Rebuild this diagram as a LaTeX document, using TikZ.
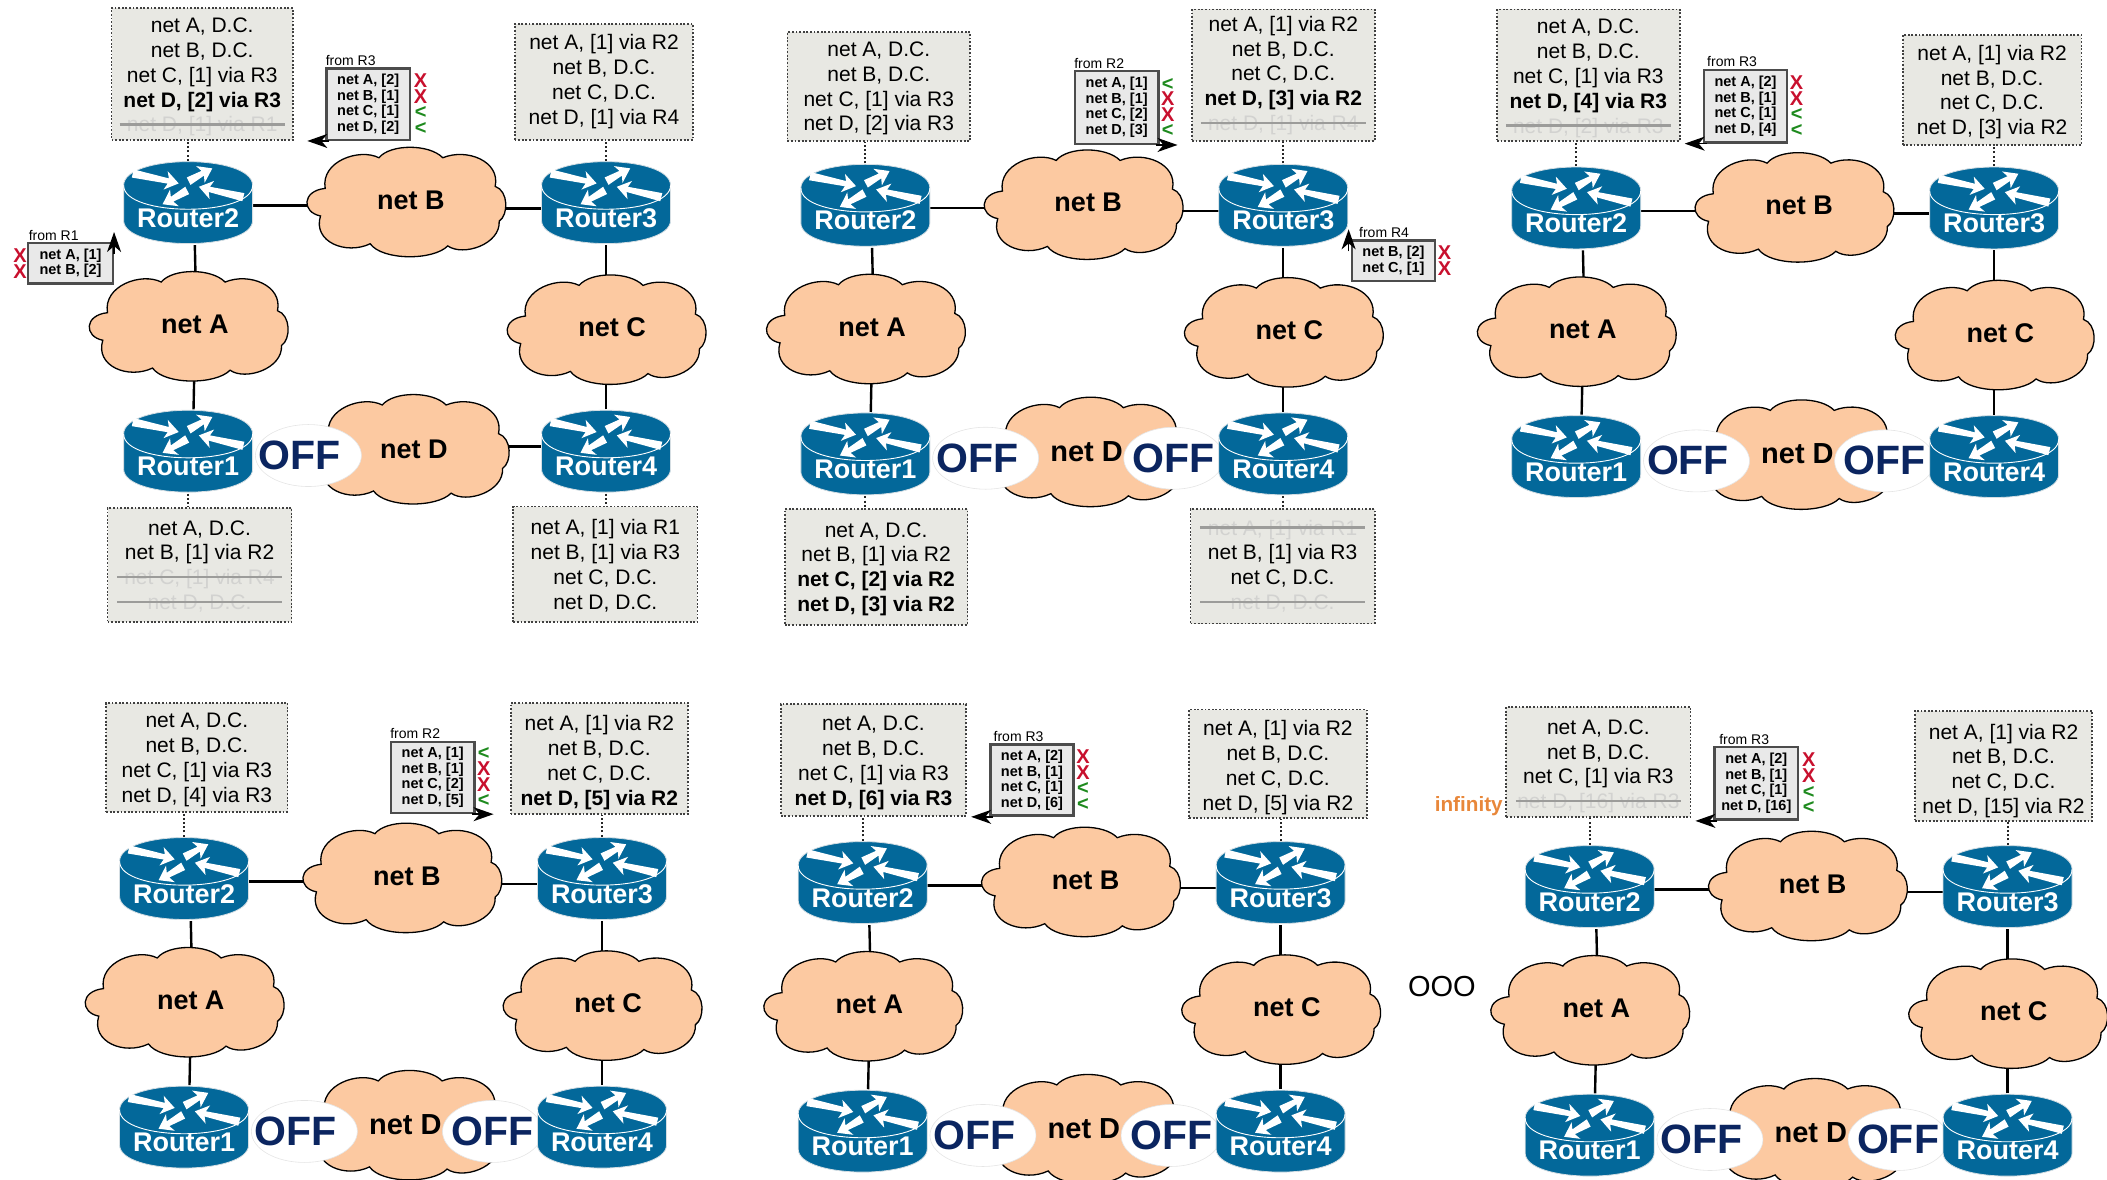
\documentclass[tikz,border=0pt]{standalone}
\usepackage{fontspec}
\setmainfont{Liberation Sans}
\usetikzlibrary{shapes.geometric,arrows.meta,backgrounds}
\definecolor{routerblue}{HTML}{03689A}
\definecolor{routeredge}{HTML}{D5DEE3}
\definecolor{cloudfill}{HTML}{FCC9A1}
\definecolor{tablefill}{HTML}{E8E8E3}
\definecolor{updfill}{HTML}{E9E9E9}
\definecolor{offblue}{HTML}{0B2560}
\definecolor{markred}{HTML}{C8102E}
\definecolor{markgreen}{HTML}{1E8A1E}
\definecolor{faint}{HTML}{D2D2D0}
\definecolor{strikeline}{HTML}{9C9C9A}
\definecolor{orangetxt}{HTML}{E8873A}
\newcommand{\rdx}{\textcolor{markred}{X}}
\newcommand{\grn}{\textcolor{markgreen}{<}}
\newcommand{\strk}[1]{\makebox[165pt][c]{\makebox[0pt]{\textcolor{faint}{#1}}\makebox[0pt]{\textcolor{strikeline}{\rule[0.3em]{165pt}{2.6pt}}}}}
\tikzset{
  x=1.34375pt,y=-1.34375pt,
  cloudshape/.style={fill=cloudfill,draw=black,line width=1.3pt},
  cloudbox/.style={inner sep=0pt,minimum width=200.2pt,minimum height=110pt,font=\fontsize{27}{30}\selectfont\bfseries},
  routerbox/.style={inner sep=0pt,minimum width=129pt,minimum height=84pt,text=white,font=\fontsize{27}{30}\selectfont\bfseries},
  offbox/.style={ellipse,inner sep=0pt,fill=white,draw=black!10,line width=0.6pt,minimum height=62pt,text=offblue,font=\fontsize{41}{44}\selectfont\bfseries},
  link/.style={draw=black,line width=2.4pt},
  dotlink/.style={draw=black!85,line width=2pt,dash pattern=on 2pt off 2.2pt},
  tablebox/.style={inner sep=0pt,fill=tablefill,draw=black!75,line width=1.8pt,dash pattern=on 1.8pt off 1.8pt,align=center,font=\fontsize{21}{24.8}\selectfont},
  updbox/.style={inner sep=0pt,fill=updfill,draw=black!70,line width=2.4pt,align=center,font=\fontsize{14.5}{15.5}\selectfont\bfseries},
  updarrow/.style={draw=black,line width=1.6pt,-{Stealth[length=20pt,width=14pt,inset=6pt]}},
  fromlbl/.style={inner sep=0pt,font=\fontsize{14}{16}\selectfont},
  marklbl/.style={inner sep=0pt,align=center,font=\fontsize{20}{15.6}\selectfont\bfseries}
}
% router: name, x, y, digit
\newcommand{\rtr}[4]{%
  \begin{scope}[shift={(#2,#3)}]
    \fill[routerblue,draw=routeredge,line width=0.8pt] (-48,-13) .. controls (-48,-36.6) and (48,-36.6) .. (48,-13) -- (48,13) .. controls (48,36) and (-48,36) .. (-48,13) -- cycle;
    \draw[white,line width=0.9pt] (-48,-13) .. controls (-48,10.6) and (48,10.6) .. (48,-13);
    \foreach \ax/\ay/\an/\al in {-7/-14.5/-13/35, 18/-25.7/27/20, 8/-12/166/34, -19/1/208/21}{
      \fill[white,shift={(\ax,\ay)},rotate=\an] (0,0) -- (-10,7) -- (-8,2) -- (-\al,3.6) -- (-\al,-2.6) -- (-8,-2) -- (-10,-7) -- cycle;
    }
    \node[routerbox] (#1) at (0,0) {\raisebox{-24.4pt}[0pt][0pt]{\makebox[0pt]{Router#4}}};
  \end{scope}}
% cloud: name, x, y, label, text dx (pt)
\newcommand{\netcloud}[5]{%
  \begin{scope}[shift={(#2,#3)}]
    \path[cloudshape] (-60.5,-9.8) .. controls (-64,-30) and (-35,-40) .. (-20.5,-32.6)
      .. controls (-12,-43) and (17,-43) .. (27,-32.6)
      .. controls (45,-40) and (70,-30) .. (66,-11.3)
      .. controls (76,-8) and (76,10) .. (69,14.6)
      .. controls (70,32) and (42,41) .. (30.7,33)
      .. controls (20,44) and (-18,44) .. (-27,31.4)
      .. controls (-45,40) and (-70,30) .. (-64,10.7)
      .. controls (-78,8) and (-78,-8) .. (-60.5,-9.8) -- cycle;
    \node[cloudbox] (#1) at (0,0) {\raisebox{-7.7pt}[0pt][0pt]{\makebox[0pt]{\hspace*{#5}#4}}};
  \end{scope}}
% panel: id, ox, oy, second OFF (0/1), net D text
\newcommand{\panel}[5]{%
  \begin{scope}[shift={(#2,#3)}]
    \netcloud{#1A}{140.5}{242.5}{net A}{12pt}
    \netcloud{#1B}{302.5}{150}{net B}{9pt}
    \netcloud{#1C}{451.5}{245}{net C}{11pt}
    \netcloud{#1D}{305}{334}{\raisebox{-2pt}{#5}}{\ifnum#4=1 -1pt\else 8pt\fi}
    \node[offbox,minimum width=106pt] (#1offL) at (229.5,339) {\raisebox{-13.8pt}[0pt][0pt]{\makebox[0pt]{\hspace*{-17pt}OFF}}};
    \ifnum#4=1
      \node[offbox,minimum width=100pt] (#1offR) at (369.5,339) {\raisebox{-13.8pt}[0pt][0pt]{\makebox[0pt]{OFF}}};
    \fi
    \rtr{#1R2}{140}{151}{2}
    \rtr{#1R3}{451}{151}{3}
    \rtr{#1R1}{140}{336}{1}
    \rtr{#1R4}{451}{336}{4}
  \end{scope}
  \begin{pgfonlayer}{background}
    \draw[link] ([xshift=6.7pt]#1R2.south) -- ([xshift=6.7pt,yshift=-4pt]#1A.north);
    \draw[link] ([xshift=5.4pt]#1R1.north) -- ([xshift=5.4pt,yshift=4pt]#1A.south);
    \draw[link] (#1R3.south) -- ([yshift=-6pt]#1R3.south |- #1C.north);
    \draw[link] (#1R4.north) -- ([yshift=4pt]#1R4.north |- #1C.south);
    \draw[link] ([yshift=-2.7pt]#1R2.east) -- ([yshift=-2.7pt,xshift=4pt]#1R2.east -| #1B.west);
    \draw[link] ([yshift=-5.4pt]#1R3.west) -- ([yshift=-5.4pt,xshift=-4pt]#1R3.west -| #1B.east);
    \ifnum#4=0
      \draw[link] ([yshift=5pt]#1R4.west) -- ([yshift=5pt,xshift=-4pt]#1R4.west -| #1D.east);
    \fi
  \end{pgfonlayer}}
% routing table: [text shift, ov units], name, x1, y1, x2, y2, lines
\newcommand{\tbl}[7][0]{%
  \pgfmathsetmacro\tw{(#5-#3)*1.34375}\pgfmathsetmacro\th{(#6-#4)*1.34375}%
  \pgfmathsetmacro\tr{17.36+2*1.34375*#1}%
  \node[tablebox,minimum width=\tw pt,minimum height=\th pt] (#2) at ({(#3+#5)/2},{(#4+#6)/2}) {\rule{0pt}{\tr pt}#7\rule[-7.44pt]{0pt}{7.44pt}};}
% update box: name, x1, y1, x2, y2, lines, label, label x, mark x; followed by \updmarks{...}
\newcommand{\upd}[9]{%
  \pgfmathsetmacro\tw{(#4-#2)*1.34375}\pgfmathsetmacro\th{(#5-#3)*1.34375}%
  \node[updbox,minimum width=\tw pt,minimum height=\th pt] (#1) at ({(#2+#4)/2},{(#3+#5)/2}) {#6};
  \node[fromlbl] (#1lbl) at (#8,{#3-6}) {#7};
  \pgfmathsetmacro\mky{(#3+#5)/2}%
  \def\mkx{#9}\def\mkn{#1}}
\newcommand{\updmarks}[1]{\node[marklbl] (\mkn mk) at (\mkx,\mky) {#1};}
\begin{document}
\begin{tikzpicture}
\useasboundingbox (0,0) rectangle (1568,877.4);
\panel{a}{0}{0}{0}{net D}
\panel{b}{504}{2}{1}{\fontsize{29}{30}\selectfont net D}
\panel{c}{1033}{4}{1}{\fontsize{29}{30}\selectfont net D}
\panel{d}{-3}{503}{1}{\fontsize{29}{30}\selectfont net D}
\panel{e}{502}{506}{1}{\fontsize{29}{30}\selectfont net D}
\panel{f}{1043}{509}{1}{\fontsize{29}{30}\selectfont net D}
% panel 1
\tbl[2.5]{at2}{83}{6}{218}{104}{net A, D.C.\\net B, D.C.\\net C, [1] via R3\\{\bfseries net D, [2] via R3}\\\strk{net D, [1] via R1}}
\tbl[0]{at3}{383}{18}{516}{104}{net A, [1] via R2\\net B, D.C.\\net C, D.C.\\net D, [1] via R4}
\tbl[1.7]{at1}{80}{378}{217}{463}{net A, D.C.\\net B, [1] via R2\\\strk{net C, [1] via R4}\\\strk{net D, D.C.}}
\tbl[2]{at4}{382}{377}{519}{463}{net A, [1] via R1\\net B, [1] via R3\\net C, D.C.\\net D, D.C.}
\upd{au3}{243}{51}{305}{104}{net A, [2]\\net B, [1]\\net C, [1]\\net D, [2]}{from R3}{261}{313}\updmarks{\rdx\\\rdx\\\grn\\\grn}
\upd{au1}{21}{181}{84}{211}{net A, [1]\\net B, [2]}{from R1}{40}{15}\updmarks{\rdx\\\rdx}
% panel 2
\tbl[1.5]{bt2}{586}{24}{722}{105}{net A, D.C.\\net B, D.C.\\net C, [1] via R3\\net D, [2] via R3}
\tbl[0.5]{bt3}{887}{7}{1023}{105}{net A, [1] via R2\\net B, D.C.\\net C, D.C.\\{\bfseries net D, [3] via R2}\\\strk{net D, [1] via R4}}
\tbl[1.7]{bt1}{584}{379}{720}{465}{net A, D.C.\\net B, [1] via R2\\{\bfseries net C, [2] via R2}\\{\bfseries net D, [3] via R2}}
\tbl[0.7]{bt4}{886}{379}{1023}{464}{\strk{net A, [1] via R1}\\net B, [1] via R3\\net C, D.C.\\\strk{net D, D.C.}}
\upd{bu2}{800}{53}{862}{107}{net A, [1]\\net B, [1]\\net C, [2]\\net D, [3]}{from R2}{818}{869}\updmarks{\grn\\\rdx\\\rdx\\\grn}
\upd{bu4}{1006}{179}{1068}{209}{net B, [2]\\net C, [1]}{from R4}{1030}{1075}\updmarks{\rdx\\\rdx}
% panel 3
\tbl[2.5]{ct2}{1114}{7}{1250}{105}{net A, D.C.\\net B, D.C.\\net C, [1] via R3\\{\bfseries net D, [4] via R3}\\\strk{net D, [2] via R3}}
\tbl[1.8]{ct3}{1416}{26}{1549}{108}{net A, [1] via R2\\net B, D.C.\\net C, D.C.\\net D, [3] via R2}
\upd{cu3}{1268}{52}{1330}{106}{net A, [2]\\net B, [1]\\net C, [1]\\net D, [4]}{from R3}{1289}{1337}\updmarks{\rdx\\\rdx\\\grn\\\grn}
% panel 4
\tbl[2]{dt2}{79}{523}{214}{604}{net A, D.C.\\net B, D.C.\\net C, [1] via R3\\net D, [4] via R3}
\tbl[3.3]{dt3}{380}{523}{512}{606}{net A, [1] via R2\\net B, D.C.\\net C, D.C.\\{\bfseries net D, [5] via R2}}
\upd{du2}{291}{552}{353}{605}{net A, [1]\\net B, [1]\\net C, [2]\\net D, [5]}{from R2}{309}{360}\updmarks{\grn\\\rdx\\\rdx\\\grn}
% panel 5
\tbl[2.3]{et2}{581}{524}{719}{607}{net A, D.C.\\net B, D.C.\\net C, [1] via R3\\{\bfseries net D, [6] via R3}}
\tbl[3]{et3}{885}{528}{1017}{609}{net A, [1] via R2\\net B, D.C.\\net C, D.C.\\net D, [5] via R2}
\upd{eu3}{737}{554}{799}{607}{net A, [2]\\net B, [1]\\net C, [1]\\net D, [6]}{from R3}{758}{806}\updmarks{\rdx\\\rdx\\\grn\\\grn}
% panel 6
\tbl[3.5]{ft2}{1121}{526}{1258}{608}{net A, D.C.\\net B, D.C.\\net C, [1] via R3\\\strk{net D, [16] via R3}}
\tbl[4]{ft3}{1425}{530}{1557}{610}{net A, [1] via R2\\net B, D.C.\\net C, D.C.\\net D, [15] via R2}
\upd{fu3}{1276}{556}{1338}{610}{net A, [2]\\net B, [1]\\net C, [1]\\net D, [16]}{from R3}{1298}{1346}\updmarks{\rdx\\\rdx\\\grn\\\grn}
\node[inner sep=0pt,text=orangetxt,font=\fontsize{20.7}{23}\selectfont\bfseries] (finf) at (1093,600) {infinity};
\node[inner sep=0pt,font=\fontsize{29}{32}\selectfont] (fooo) at (1073,734) {OOO};
% dotted links table to router
\begin{pgfonlayer}{background}
\foreach \p in {a,b,c,d,e,f}{
  \draw[dotlink] (\p R2.north) -- (\p R2.north |- \p t2.south);
  \draw[dotlink] (\p R3.north) -- (\p R3.north |- \p t3.south);
}
\foreach \p in {a,b}{
  \draw[dotlink] (\p R1.south) -- (\p R1.south |- \p t1.north);
  \draw[dotlink] (\p R4.south) -- (\p R4.south |- \p t4.north);
}
\end{pgfonlayer}
% update arrows
\coordinate (aa3) at ([xshift=-18pt]au3.south west);
\draw[updarrow] ([xshift=4pt]au3.south west) -- (aa3);
\coordinate (aa1) at ([yshift=10pt]au1.north east);
\draw[updarrow] ([yshift=-12pt]au1.north east) -- (aa1);
\coordinate (ba2) at ([xshift=18pt]bu2.south east);
\draw[updarrow] ([xshift=-4pt]bu2.south east) -- (ba2);
\coordinate (ba4) at ([yshift=10pt,xshift=-2pt]bu4.north west);
\draw[updarrow] ([yshift=-12pt,xshift=-2pt]bu4.north west) -- (ba4);
\coordinate (ca3) at ([xshift=-18pt]cu3.south west);
\draw[updarrow] ([xshift=4pt]cu3.south west) -- (ca3);
\coordinate (da2) at ([xshift=18pt]du2.south east);
\draw[updarrow] ([xshift=-4pt]du2.south east) -- (da2);
\coordinate (ea3) at ([xshift=-18pt]eu3.south west);
\draw[updarrow] ([xshift=4pt]eu3.south west) -- (ea3);
\coordinate (fa3) at ([xshift=-18pt]fu3.south west);
\draw[updarrow] ([xshift=4pt]fu3.south west) -- (fa3);
\end{tikzpicture}
\end{document}
